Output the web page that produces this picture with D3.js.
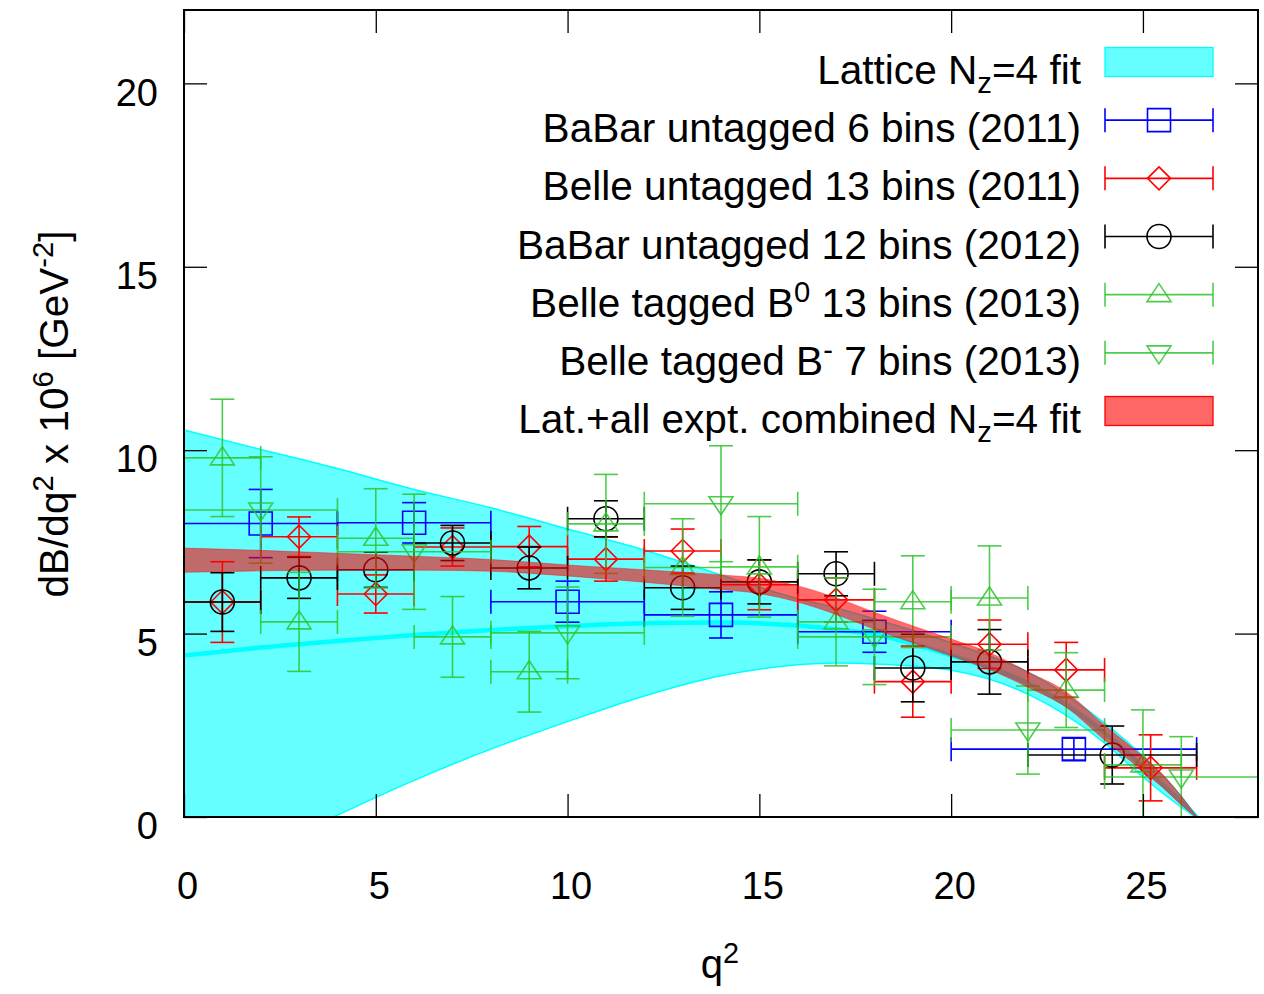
<!DOCTYPE html>
<html>
<head>
<meta charset="utf-8">
<script src="https://cdn.jsdelivr.net/npm/d3@7"></script>
<style>
body { margin: 0; background: #fff; }
svg text { font-family: "Liberation Sans", Arial, Helvetica, sans-serif; fill: #000; white-space: pre; }
</style>
</head>
<body>
<svg id="chart" width="1264" height="994"></svg>
<script>
// lattice-only fit band (Nz=4)
var latticeQ2      = [0, 2, 4, 6, 8, 10, 12, 14, 16, 17, 18, 20, 22, 24, 25, 26, 26.4];
var latticeUpper   = [10.55, 10.02, 9.5, 8.93, 8.43, 7.85, 7.28, 6.6, 5.95, 5.7, 5.4, 4.75, 3.95, 2.56, 1.66, 0.56, 0.02];
var latticeCentral = [4.4, 4.62, 4.8, 4.96, 5.1, 5.2, 5.28, 5.3, 5.22, 5.12, 4.98, 4.4, 3.65, 2.3, 1.37, 0.41, 0];
var latticeLower   = [-2.0, -0.95, 0.05, 1.0, 1.85, 2.6, 3.3, 3.85, 4.15, 4.2, 4.17, 4.0, 3.35, 2.02, 1.09, 0.27, -0.02];

// lattice + all experiments combined fit
var combinedQ2  = [0, 2, 4, 6, 8, 10, 12, 14, 15, 16, 17, 18, 19, 20, 21, 22, 23, 24, 25, 25.5, 26, 26.4];
var combinedVal = [7.0, 6.99, 6.96, 6.92, 6.86, 6.72, 6.57, 6.4, 6.3, 6.08, 5.75, 5.35, 4.98, 4.62, 4.25, 3.75, 3.2, 2.3, 1.45, 1.0, 0.45, 0];
var combinedErr = [0.33, 0.28, 0.23, 0.19, 0.16, 0.15, 0.17, 0.2, 0.21, 0.22, 0.23, 0.23, 0.23, 0.23, 0.23, 0.21, 0.21, 0.2, 0.2, 0.18, 0.12, 0.02];

// BaBar untagged 6 bins (2011)
var babar11Q2  = [2, 6, 10, 14, 18, 23.2];
var babar11Lo  = [0, 4, 8, 12, 16, 20];
var babar11Hi  = [4, 8, 12, 16, 20, 26.4];
var babar11Val = [8.0, 8.02, 5.87, 5.51, 5.05, 1.85];
var babar11Err = [0.93, 0.55, 0.56, 0.63, 0.56, 0.3];

// Belle untagged 13 bins (2011)
var belle11Q2  = [1, 3, 5, 7, 9, 11, 13, 15, 17, 19, 21, 23, 25.2];
var belle11Lo  = [0, 2, 4, 6, 8, 10, 12, 14, 16, 18, 20, 22, 24];
var belle11Hi  = [2, 4, 6, 8, 10, 12, 14, 16, 18, 20, 22, 24, 26.4];
var belle11Val = [5.86, 7.64, 6.08, 7.36, 7.37, 7.03, 7.25, 6.33, 5.92, 3.69, 4.71, 4.01, 1.34];
var belle11Err = [1.1, 0.54, 0.52, 0.52, 0.55, 0.6, 0.6, 0.68, 0.6, 0.97, 0.66, 0.75, 0.9];

// BaBar untagged 12 bins (2012)
var babar12Q2  = [1, 3, 5, 7, 9, 11, 13, 15, 17, 19, 21, 24.2];
var babar12Lo  = [0, 2, 4, 6, 8, 10, 12, 14, 16, 18, 20, 22];
var babar12Hi  = [2, 4, 6, 8, 10, 12, 14, 16, 18, 20, 22, 26.4];
var babar12Val = [5.86, 6.52, 6.74, 7.47, 6.79, 8.13, 6.25, 6.41, 6.63, 4.06, 4.23, 1.69];
var babar12Err = [0.8, 0.56, 0.48, 0.48, 0.57, 0.49, 0.59, 0.6, 0.6, 0.92, 0.88, 0.79];

// Belle tagged B0 13 bins (2013)
var belleB0Q2  = [1, 3, 5, 7, 9, 11, 13, 15, 17, 19, 21, 23, 25];
var belleB0Lo  = [0, 2, 4, 6, 8, 10, 12, 14, 16, 18, 20, 22, 24];
var belleB0Hi  = [2, 4, 6, 8, 10, 12, 14, 16, 18, 20, 22, 24, 26];
var belleB0Val = [9.79, 5.32, 7.6, 4.91, 3.96, 7.99, 6.8, 6.82, 5.32, 5.87, 5.97, 3.46, 1.42];
var belleB0Err = [1.6, 1.35, 1.35, 1.1, 1.1, 1.35, 1.33, 1.37, 1.2, 1.25, 1.42, 1.02, 1.5];

// Belle tagged B- 7 bins (2013)
var belleBmQ2  = [2, 6, 10, 14, 18, 22, 26];
var belleBmLo  = [0, 4, 8, 12, 16, 20, 24];
var belleBmHi  = [4, 8, 12, 16, 20, 24, 28];
var belleBmVal = [8.37, 7.23, 5.02, 8.54, 4.91, 2.37, 1.09];
var belleBmErr = [1.45, 1.57, 1.25, 1.58, 1.3, 1.2, 1.1];

var xTicks = [0, 5, 10, 15, 20, 25];
var yTicks = [0, 5, 10, 15, 20];

var cyan = "#00ffff", red = "#ff0000", blue = "#0000ff", green = "#2ec42e";

var svg = d3.select("#chart");
var x = d3.scaleLinear().domain([0, 28]).range([184, 1258]);
var y = d3.scaleLinear().domain([0, 22]).range([817, 10]);

svg.append("defs").append("clipPath").attr("id", "plotclip")
    .append("rect")
    .attr("x", x(0)).attr("y", y(22))
    .attr("width", x(28) - x(0)).attr("height", y(0) - y(22));

var plot = svg.append("g").attr("clip-path", "url(#plotclip)");

// bands
var latticeData = latticeQ2.map(function(d, i) {
    return {q2: d, lo: latticeLower[i], hi: latticeUpper[i], c: latticeCentral[i]};
});
var combinedData = combinedQ2.map(function(d, i) {
    return {q2: d, lo: combinedVal[i] - combinedErr[i], hi: combinedVal[i] + combinedErr[i]};
});

var band = d3.area()
    .curve(d3.curveMonotoneX)
    .x(function(d) { return x(d.q2); })
    .y0(function(d) { return y(d.lo); })
    .y1(function(d) { return y(d.hi); });
var edge = function(key) {
    return d3.line().curve(d3.curveMonotoneX)
        .x(function(d) { return x(d.q2); })
        .y(function(d) { return y(d[key]); });
};

plot.append("path").datum(latticeData)
    .attr("d", band)
    .attr("fill", cyan).attr("fill-opacity", 0.6);
["lo", "hi"].forEach(function(k) {
    plot.append("path").datum(latticeData)
        .attr("d", edge(k))
        .attr("fill", "none").attr("stroke", cyan).attr("stroke-width", 1.5);
});
plot.append("path").datum(latticeData)
    .attr("d", edge("c"))
    .attr("fill", "none").attr("stroke", cyan).attr("stroke-width", 4.5);

// marker shapes, centred on 0,0
var shapes = {
    square:   "M-11.5,-11.5H11.5V11.5H-11.5Z",
    diamond:  "M0,-11.5L11.5,0L0,11.5L-11.5,0Z",
    circle:   "M12,0A12,12 0 1,1 -12,0A12,12 0 1,1 12,0Z",
    up:       "M0,-11L12,7H-12Z",
    down:     "M0,11L12,-7H-12Z"
};

function drawSeries(q2, lo, hi, val, err, color, shape, opacity) {
    var data = q2.map(function(d, i) {
        return {q2: d, lo: lo[i], hi: hi[i], v: val[i], e: err[i]};
    });
    var g = plot.append("g")
        .attr("stroke", color).attr("fill", "none")
        .attr("stroke-width", 1.6).attr("stroke-opacity", opacity);
    var pt = g.selectAll("g").data(data).enter().append("g");

    var seg = function(x1, y1, x2, y2) {
        pt.append("line").attr("x1", x1).attr("y1", y1).attr("x2", x2).attr("y2", y2);
    };
    // x bar with end ticks
    seg(function(d) { return x(d.lo); }, function(d) { return y(d.v); },
        function(d) { return x(d.hi); }, function(d) { return y(d.v); });
    seg(function(d) { return x(d.lo); }, function(d) { return y(d.v) - 12; },
        function(d) { return x(d.lo); }, function(d) { return y(d.v) + 12; });
    seg(function(d) { return x(d.hi); }, function(d) { return y(d.v) - 12; },
        function(d) { return x(d.hi); }, function(d) { return y(d.v) + 12; });
    // y bar with caps
    seg(function(d) { return x(d.q2); }, function(d) { return y(d.v + d.e); },
        function(d) { return x(d.q2); }, function(d) { return y(d.v - d.e); });
    seg(function(d) { return x(d.q2) - 12; }, function(d) { return y(d.v + d.e); },
        function(d) { return x(d.q2) + 12; }, function(d) { return y(d.v + d.e); });
    seg(function(d) { return x(d.q2) - 12; }, function(d) { return y(d.v - d.e); },
        function(d) { return x(d.q2) + 12; }, function(d) { return y(d.v - d.e); });

    pt.append("path")
        .attr("d", shapes[shape])
        .attr("transform", function(d) { return "translate(" + x(d.q2) + "," + y(d.v) + ")"; });
}

drawSeries(babar11Q2, babar11Lo, babar11Hi, babar11Val, babar11Err, blue, "square", 1);
drawSeries(belle11Q2, belle11Lo, belle11Hi, belle11Val, belle11Err, red, "diamond", 1);
drawSeries(babar12Q2, babar12Lo, babar12Hi, babar12Val, babar12Err, "#000", "circle", 1);
drawSeries(belleB0Q2, belleB0Lo, belleB0Hi, belleB0Val, belleB0Err, green, "up", 0.85);
drawSeries(belleBmQ2, belleBmLo, belleBmHi, belleBmVal, belleBmErr, green, "down", 0.85);

// combined fit goes on top
plot.append("path").datum(combinedData)
    .attr("d", band)
    .attr("fill", red).attr("fill-opacity", 0.58)
    .attr("stroke", red).attr("stroke-opacity", 0.4).attr("stroke-width", 1);

// axes: inward ticks on all four sides
var tickLen = 23;
var axisB = svg.append("g").attr("transform", "translate(0," + y(0) + ")")
    .call(d3.axisBottom(x).tickValues(xTicks).tickSizeInner(-tickLen).tickSizeOuter(0).tickPadding(55));
var axisL = svg.append("g").attr("transform", "translate(" + x(0) + ",0)")
    .call(d3.axisLeft(y).tickValues(yTicks).tickSizeInner(-tickLen).tickSizeOuter(0).tickPadding(26));
svg.append("g").attr("transform", "translate(0," + y(22) + ")")
    .call(d3.axisTop(x).tickValues(xTicks).tickSizeInner(-tickLen).tickSizeOuter(0).tickFormat(""));
svg.append("g").attr("transform", "translate(" + x(28) + ",0)")
    .call(d3.axisRight(y).tickValues(yTicks).tickSizeInner(-tickLen).tickSizeOuter(0).tickFormat(""));

svg.selectAll(".domain").remove();
svg.selectAll(".tick line").attr("stroke", "#000").attr("stroke-width", 1.3);
svg.selectAll(".tick text").attr("font-size", 38).attr("font-family", null).attr("fill", "#000");
axisB.selectAll(".tick text").attr("dx", 3);
axisL.selectAll(".tick text").attr("dy", "0.57em");

svg.append("rect")
    .attr("x", x(0)).attr("y", y(22))
    .attr("width", x(28) - x(0)).attr("height", y(0) - y(22))
    .attr("fill", "none").attr("stroke", "#000").attr("stroke-width", 2);

// text with sub/superscripts
function richText(sel, parts) {
    var shift = 0;
    parts.forEach(function(p) {
        var target = p[1] === "sup" ? -15 : (p[1] === "sub" ? 9 : 0);
        var t = sel.append("tspan").attr("dy", target - shift).text(p[0]);
        if (p[1] !== "n") t.attr("font-size", "0.72em");
        shift = target;
    });
}

var xLabel = svg.append("text")
    .attr("x", 720).attr("y", 978)
    .attr("text-anchor", "middle").attr("font-size", 40);
richText(xLabel, [["q", "n"], ["2", "sup"]]);

var yLabel = svg.append("text")
    .attr("transform", "translate(68,414) rotate(-90)")
    .attr("text-anchor", "middle").attr("font-size", 40.5);
richText(yLabel, [["dB/dq", "n"], ["2", "sup"], [" x 10", "n"], ["6", "sup"], [" [GeV", "n"], ["-2", "sup"], ["]", "n"]]);

// legend
var legendLabels = [
    [["Lattice N", "n"], ["z", "sub"], ["=4 fit", "n"]],
    [["BaBar untagged 6 bins (2011)", "n"]],
    [["Belle untagged 13 bins (2011)", "n"]],
    [["BaBar untagged 12 bins (2012)", "n"]],
    [["Belle tagged B", "n"], ["0", "sup"], [" 13 bins (2013)", "n"]],
    [["Belle tagged B", "n"], ["-", "sup"], [" 7 bins (2013)", "n"]],
    [["Lat.+all expt. combined N", "n"], ["z", "sub"], ["=4 fit", "n"]]
];
var legendKinds = [
    {band: cyan},
    {color: blue, shape: "square"},
    {color: red, shape: "diamond"},
    {color: "#000", shape: "circle"},
    {color: green, shape: "up"},
    {color: green, shape: "down"},
    {band: red}
];
var legendRowY = d3.scaleLinear().domain([0, 6]).range([62, 411]);
var keyX0 = 1105, keyX1 = 1213, keyXm = (keyX0 + keyX1) / 2;

var rows = svg.append("g").selectAll("g")
    .data(legendKinds).enter().append("g")
    .attr("transform", function(d, i) { return "translate(0," + legendRowY(i) + ")"; });

rows.each(function(d, i) {
    var row = d3.select(this);
    var t = row.append("text")
        .attr("x", 1081).attr("y", 22)
        .attr("text-anchor", "end").attr("font-size", 40.6);
    richText(t, legendLabels[i]);

    if (d.band) {
        row.append("rect")
            .attr("x", keyX0).attr("y", -14.5)
            .attr("width", keyX1 - keyX0).attr("height", 29)
            .attr("fill", d.band).attr("fill-opacity", 0.6)
            .attr("stroke", d.band).attr("stroke-width", 1.3);
    } else {
        var g = row.append("g").attr("stroke", d.color).attr("fill", "none")
            .attr("stroke-width", 1.6).attr("stroke-opacity", d.color === green ? 0.85 : 1);
        g.append("line").attr("x1", keyX0).attr("x2", keyX1).attr("y1", 0).attr("y2", 0);
        g.append("line").attr("x1", keyX0).attr("x2", keyX0).attr("y1", -12).attr("y2", 12);
        g.append("line").attr("x1", keyX1).attr("x2", keyX1).attr("y1", -12).attr("y2", 12);
        g.append("path").attr("d", shapes[d.shape]).attr("transform", "translate(" + keyXm + ",0)");
    }
});
</script>
</body>
</html>
